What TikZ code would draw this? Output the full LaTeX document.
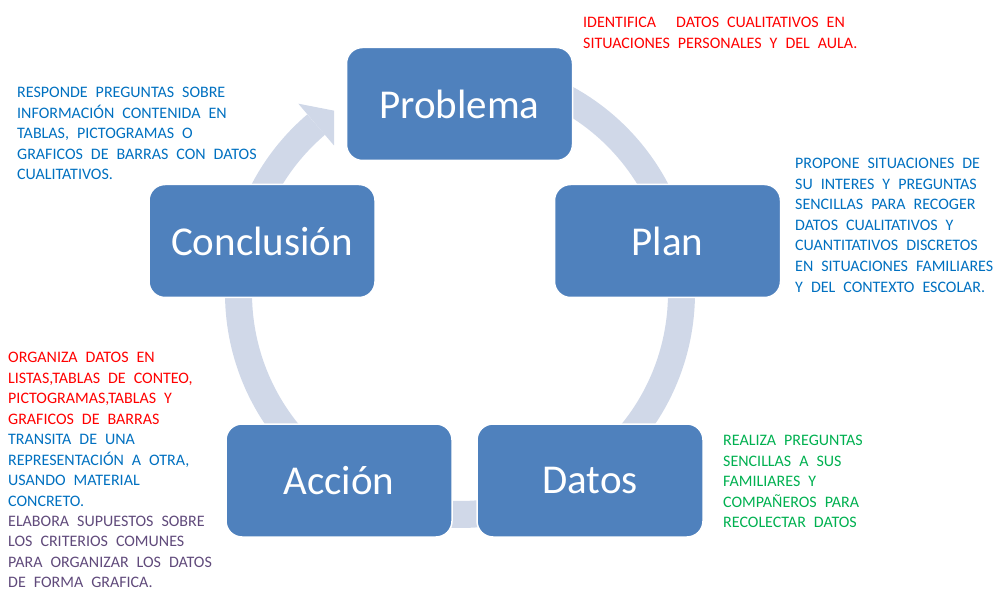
\documentclass[tikz,border=0pt]{standalone}
\usepackage{fontspec}
\setmainfont{Carlito}
\usetikzlibrary{positioning}

\definecolor{stageblue}{HTML}{4F81BD}
\definecolor{ringgray}{HTML}{D0D8E8}
\definecolor{noteblue}{HTML}{0070C0}
\definecolor{notegreen}{HTML}{00B050}
\definecolor{notepurple}{HTML}{604A7B}

\tikzset{
    stage/.style={rectangle, rounded corners=16pt, fill=stageblue, draw=white,
        line width=1.5pt, minimum width=226pt, minimum height=113pt,
        text=white, font=\fontsize{41}{41}\selectfont},
    note/.style={anchor=north west, align=left, inner sep=0pt,
        font=\fontsize{16}{20.6}\selectfont,
        execute at begin node={\spaceskip=0.5em plus 0.1em\relax}},
}

\begin{document}
\begin{tikzpicture}[x=1pt, y=1pt]

    \clip (0,0) rectangle (995,592);
    \coordinate (ctr) at (460,299);

    % ring and arrow head
    \draw [ringgray, line width=27pt] ([shift={(130.5:221.5)}]ctr)
        arc [start angle=130.5, end angle=440, radius=221.5];
    \fill [ringgray] ([shift={(130.5:249)}]ctr) -- ([shift={(124.6:221.5)}]ctr)
        -- ([shift={(130.5:194)}]ctr) -- cycle;

    \node [stage] (problema)   at (459.5,488)   {Problema};
    \node [stage] (plan)       at (667.5,351)   {Plan};
    \node [stage] (datos)      at (590,111.5)   {Datos};
    \node [stage] (accion)     at (339,111.5)   {Acción};
    \node [stage] (conclusion) at (262,351)     {Conclusión};

    \node [note, text=red] (identifica) at (583,575)
        {IDENTIFICA\hspace{20pt}DATOS CUALITATIVOS EN\\
         SITUACIONES PERSONALES Y DEL AULA.};
    \node [note, text=noteblue] (responde) at (17,505)
        {RESPONDE PREGUNTAS SOBRE\\
         INFORMACIÓN CONTENIDA EN\\
         TABLAS, PICTOGRAMAS O\\
         GRAFICOS DE BARRAS CON DATOS\\
         CUALITATIVOS.};
    \node [note, text=noteblue] (propone) at (795,434)
        {PROPONE SITUACIONES DE\\
         SU INTERES Y PREGUNTAS\\
         SENCILLAS PARA RECOGER\\
         DATOS CUALITATIVOS Y\\
         CUANTITATIVOS DISCRETOS\\
         EN SITUACIONES FAMILIARES\\
         Y DEL CONTEXTO ESCOLAR.};
    \node [note, text=notegreen] (realiza) at (723,157)
        {REALIZA PREGUNTAS\\
         SENCILLAS A SUS\\
         FAMILIARES Y\\
         COMPAÑEROS PARA\\
         RECOLECTAR DATOS};

    \node [note, text=red] (organiza) at (8,240)
        {ORGANIZA DATOS EN\\
         LISTAS,TABLAS DE CONTEO,\\
         PICTOGRAMAS,TABLAS Y\\
         GRAFICOS DE BARRAS};
    \node [note, text=noteblue] (transita) at (8,158)
        {TRANSITA DE UNA\\
         REPRESENTACIÓN A OTRA,\\
         USANDO MATERIAL\\
         CONCRETO.};
    \node [note, text=notepurple] (elabora) at (8,76.5)
        {ELABORA SUPUESTOS SOBRE\\
         LOS CRITERIOS COMUNES\\
         PARA ORGANIZAR LOS DATOS\\
         DE FORMA GRAFICA.};
\end{tikzpicture}
\end{document}
